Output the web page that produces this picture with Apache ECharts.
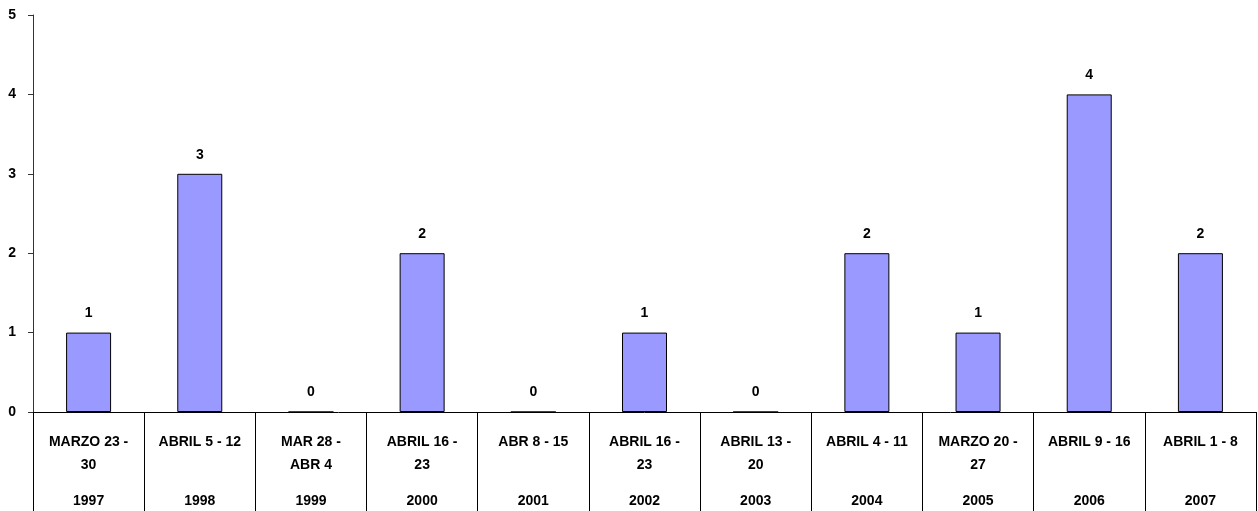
<!DOCTYPE html>
<html><head><meta charset="utf-8">
<script src="https://cdn.jsdelivr.net/npm/echarts@6/dist/echarts.min.js"></script>
<style>html,body{margin:0;padding:0;background:#fff}#c{width:1258px;height:511px}</style>
</head><body><div id="c"></div>
<script>
var dateRanges = ['MARZO 23 -\n30','ABRIL 5 - 12','MAR 28 -\nABR 4','ABRIL 16 -\n23','ABR 8 - 15','ABRIL 16 -\n23','ABRIL 13 -\n20','ABRIL 4 - 11','MARZO 20 -\n27','ABRIL 9 - 16','ABRIL 1 - 8'];
var years = ['1997','1998','1999','2000','2001','2002','2003','2004','2005','2006','2007'];
var values = [1,3,0,2,0,1,0,2,1,4,2];
var yTicks = [0,1,2,3,4,5];

var categories = years.map(function(y,i){ return dateRanges[i] + '|' + y; });
var FONT = '"Liberation Sans Narrow", "Arial Narrow", "Liberation Sans", Arial, sans-serif';
var chart = echarts.init(document.getElementById('c'));
chart.setOption({
  animation:false,
  backgroundColor:'#ffffff',
  grid:{left:33,right:2,top:15,bottom:99,containLabel:false},
  xAxis:{
    type:'category', data:categories,
    axisLine:{lineStyle:{color:'#000',width:1}},
    axisTick:{show:true,length:99,alignWithLabel:false,lineStyle:{color:'#000',width:1}},
    axisLabel:{
      interval:0, margin:19,
      formatter:function(v){
        var p=v.split('|'); var lines=p[0].split('\n');
        var l1=lines[0], l2=lines[1]||' ';
        return '{a|'+l1+'}\n{a|'+l2+'}\n{y|'+p[1]+'}';
      },
      rich:{
        a:{fontFamily:FONT,fontWeight:'bold',fontSize:14,lineHeight:23,color:'#000'},
        y:{fontFamily:FONT,fontWeight:'bold',fontSize:14,lineHeight:49,color:'#000'}
      }
    }
  },
  yAxis:{
    type:'value', min:0, max:5, interval:1,
    axisLine:{show:true,lineStyle:{color:'#333',width:1}},
    axisTick:{show:true,length:5,lineStyle:{color:'#333'}},
    splitLine:{show:false},
    axisLabel:{margin:17,fontFamily:FONT,fontWeight:'bold',fontSize:14,color:'#000',
      formatter:function(v){return yTicks.indexOf(v)>=0?String(v):'';}}
  },
  series:[{
    type:'bar', data:values, barWidth:45,
    itemStyle:{color:'#9999FF',borderColor:'#000',borderWidth:1},
    label:{show:true,position:'top',distance:12,fontFamily:FONT,fontWeight:'bold',fontSize:14,color:'#000'}
  }]
});
</script></body></html>
